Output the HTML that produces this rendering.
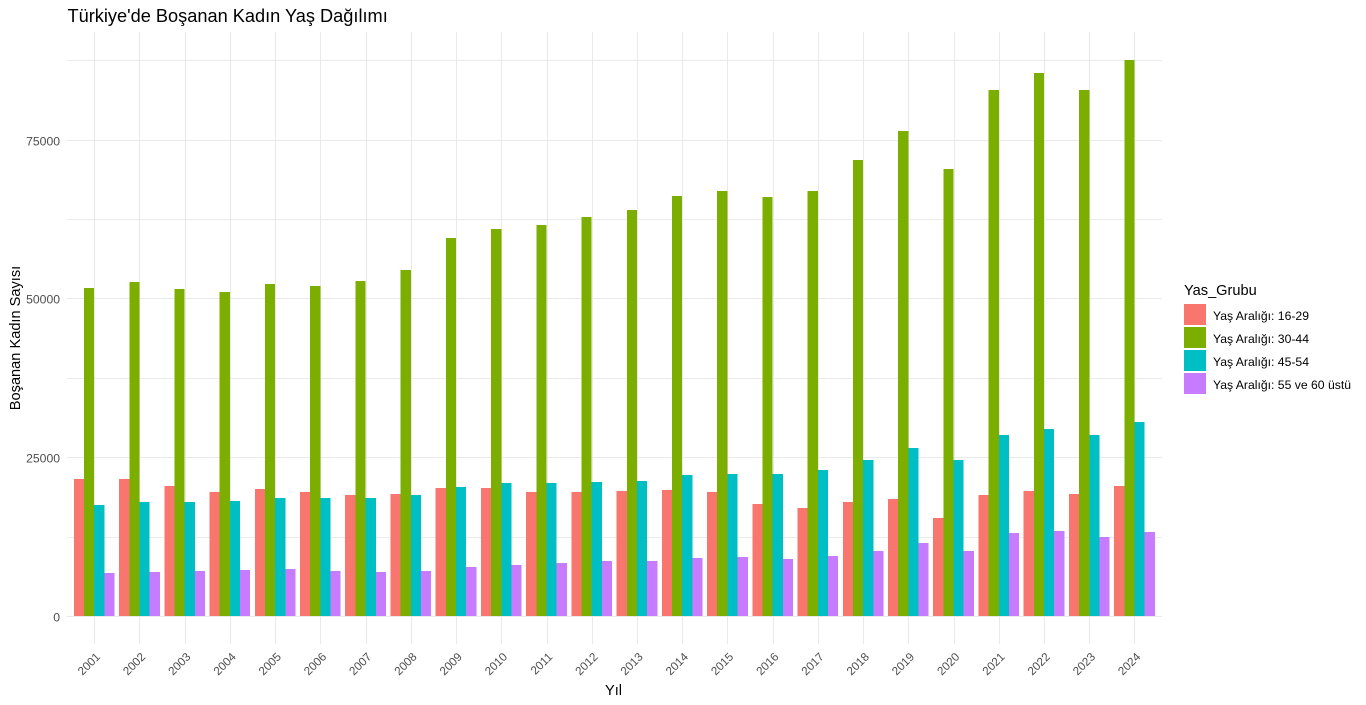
<!DOCTYPE html>
<html lang="tr">
<head>
<meta charset="utf-8">
<title>Türkiye'de Boşanan Kadın Yaş Dağılımı</title>
<style>
html,body{margin:0;padding:0;background:#fff;width:1366px;height:705px;overflow:hidden}
svg{display:block}
text{font-family:"Liberation Sans",Arial,sans-serif}
</style>
</head>
<body>
<svg id="chart" xmlns="http://www.w3.org/2000/svg" width="1366" height="705" viewBox="0 0 1366 705">
  <rect x="0" y="0" width="1366" height="705" fill="#ffffff"/>
  <g id="grid"></g>
  <g id="bars"></g>
  <g id="y-ticks"></g>
  <g id="x-ticks"></g>
  <text x="67.5" y="22" font-size="18.2" fill="#000000">Türkiye'de Boşanan Kadın Yaş Dağılımı</text>
  <text x="613.5" y="695" font-size="14.6" fill="#000000" text-anchor="middle">Yıl</text>
  <text transform="translate(20,338) rotate(-90)" font-size="14.6" fill="#000000" text-anchor="middle">Boşanan Kadın Sayısı</text>
  <g id="legend">
    <text x="1184" y="295" font-size="14.6" fill="#000000">Yas_Grubu</text>
  </g>
</svg>
<script>
const years = [2001,2002,2003,2004,2005,2006,2007,2008,2009,2010,2011,2012,2013,2014,2015,2016,2017,2018,2019,2020,2021,2022,2023,2024];
const seriesNames = ["Yaş Aralığı: 16-29","Yaş Aralığı: 30-44","Yaş Aralığı: 45-54","Yaş Aralığı: 55 ve 60 üstü"];
const seriesColors = ["#F8766D","#7CAE00","#00BFC4","#C77CFF"];
const age16to29 = [21656,21656,20554,19610,20082,19610,19137,19295,20239,20239,19610,19610,19767,19924,19610,17721,17092,18036,18508,15518,19137,19767,19295,20554];
const age30to44 = [51715,52660,51558,51086,52345,52030,52817,54548,59584,61000,61630,62889,63991,66194,66981,66037,66981,71860,76424,70443,82877,85552,82877,87598];
const age45to54 = [17564,18036,18036,18193,18665,18665,18665,19137,20396,21026,21026,21183,21341,22285,22443,22443,23072,24646,26535,24646,28582,29526,28582,30630];
const age55plus = [6857,7015,7172,7330,7487,7172,7015,7172,7802,8117,8431,8746,8746,9218,9376,9061,9533,10320,11579,10320,13127,13442,12498,13285];
const majorTicks = [0,25000,50000,75000];
const minorTicks = [12500,37500,62500,87500];

const seriesValues = [age16to29, age30to44, age45to54, age55plus];
const SVG_NS = "http://www.w3.org/2000/svg";
const panel = {left:67, right:1162, top:32, bottom:644};

function xScale(i){ return 94.2 + i * 45.23; }
function yScale(v){ return 616.6 - v * 0.006354; }

function make(tag, attrs){
  const el = document.createElementNS(SVG_NS, tag);
  for (const k in attrs) el.setAttribute(k, attrs[k]);
  return el;
}

const grid = document.getElementById("grid");
minorTicks.forEach(function(t){
  const py = Math.floor(yScale(t)) + 0.5;
  const line = make("line",{x1:panel.left,x2:panel.right,y1:py,y2:py,stroke:"#ebebeb","stroke-width":1});
  
  
  grid.appendChild(line);
});
majorTicks.forEach(function(t){
  const py = Math.floor(yScale(t)) + 0.5;
  const line = make("line",{x1:panel.left,x2:panel.right,y1:py,y2:py,stroke:"#e9e9e9","stroke-width":1});
  
  
  grid.appendChild(line);
});
years.forEach(function(y,i){
  const px = Math.round(xScale(i)) + 0.5;
  const line = make("line",{x1:px,x2:px,y1:panel.top,y2:panel.bottom,stroke:"#e9e9e9","stroke-width":1});
  
  
  grid.appendChild(line);
});

const bars = document.getElementById("bars");
const dodgeWidth = 45.23 * 0.9;
const barWidth = dodgeWidth / seriesValues.length;
const baseline = Math.floor(yScale(0));
seriesValues.forEach(function(values,s){
  values.forEach(function(v,i){
    const x = xScale(i) - dodgeWidth / 2 + s * barWidth;
    const rect = make("rect",{x:x,y:yScale(v),width:barWidth,height:baseline-yScale(v),fill:seriesColors[s],"shape-rendering":"crispEdges"});
    
    
    bars.appendChild(rect);
  });
});

const yTicks = document.getElementById("y-ticks");
majorTicks.forEach(function(t){
  const label = make("text",{x:60,y:Math.floor(yScale(t))+5.5,"text-anchor":"end","font-size":12.2,fill:"#4d4d4d"});
  label.textContent = String(t);
  
  
  yTicks.appendChild(label);
});

const xTicks = document.getElementById("x-ticks");
years.forEach(function(y,i){
  const label = make("text",{transform:"translate("+(xScale(i)+6.7)+",657.5) rotate(-45)","text-anchor":"end","font-size":11.7,fill:"#4d4d4d"});
  label.textContent = String(y);
  
  
  xTicks.appendChild(label);
});

const legend = document.getElementById("legend");
seriesNames.forEach(function(name,s){
  const top = 304 + s * 23;
  const key = make("rect",{x:1184,y:top,width:22,height:21,fill:seriesColors[s]});
  
  
  legend.appendChild(key);
  const label = make("text",{x:1213,y:top+16,"font-size":12.2,fill:"#000000"});
  label.textContent = name;
  
  
  legend.appendChild(label);
});
</script>
</body>
</html>
